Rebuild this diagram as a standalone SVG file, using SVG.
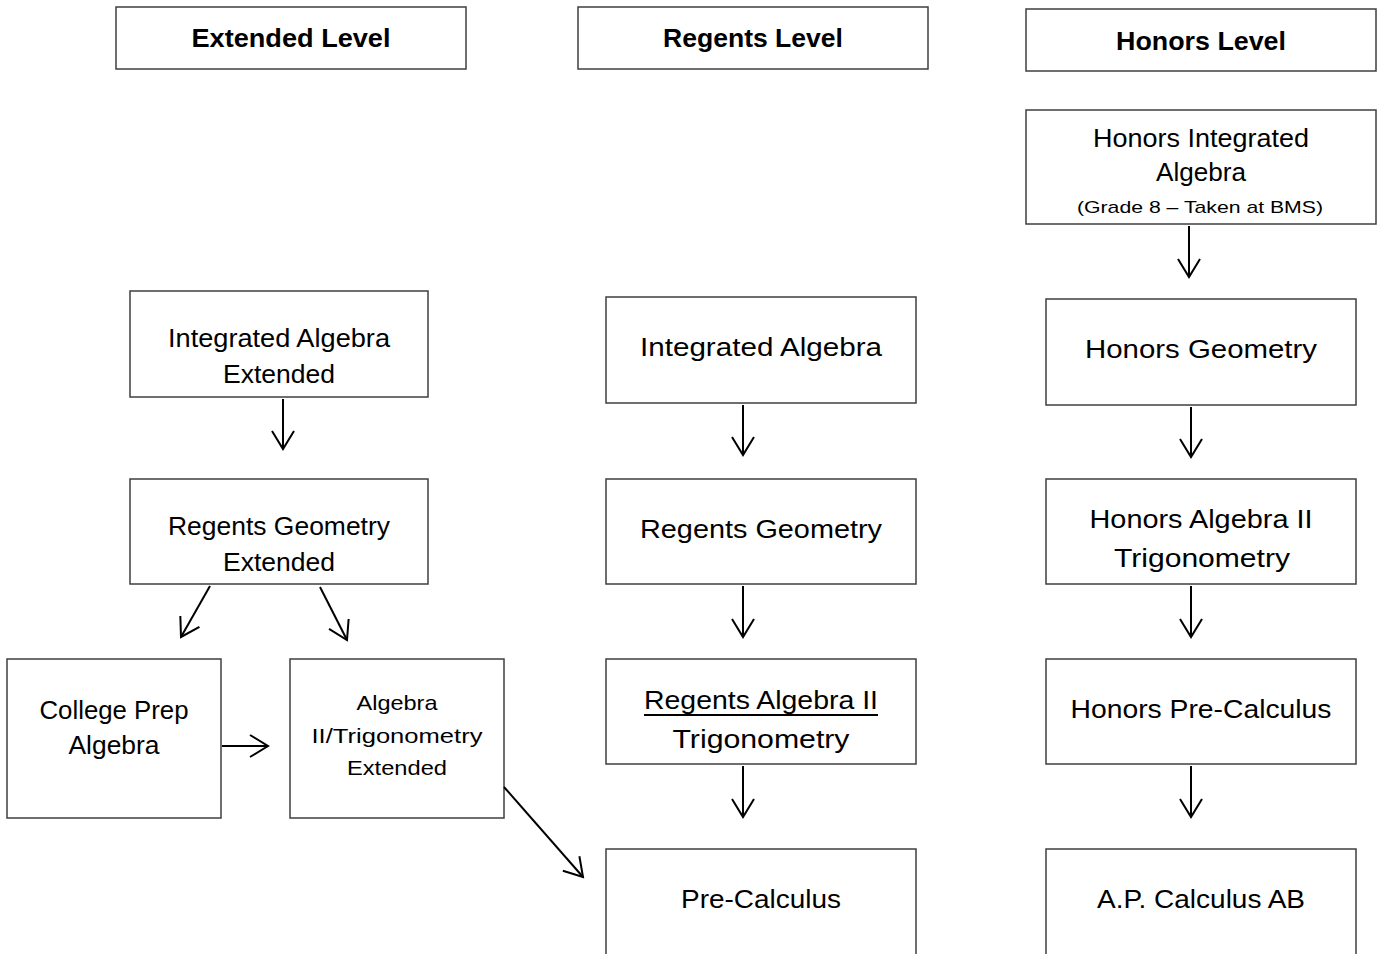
<svg xmlns="http://www.w3.org/2000/svg" width="1377" height="954" viewBox="0 0 1377 954">
<style>
.box{fill:#fff;stroke:#3f3f3f;stroke-width:1.5}
.t{font-family:"Liberation Sans",Arial,sans-serif;font-size:25px;fill:#000;text-anchor:middle}
.h{font-weight:bold;font-size:25px}
.s{font-size:21px}
.xs{font-size:17px}
.c{fill:none;stroke:#000;stroke-width:2}
</style>
<defs>
<marker id="ah" markerUnits="userSpaceOnUse" markerWidth="30" markerHeight="30" viewBox="-20 -15 22 30" refX="0" refY="0" orient="auto">
<path d="M-18,-11 L0,0 L-18,11" fill="none" stroke="#000" stroke-width="2"/>
</marker>
</defs>
<rect width="1377" height="954" fill="#fff"/>

<g id="hdr-extended"><rect class="box" x="116" y="7" width="350" height="62"/><text class="t h" x="291" y="47" textLength="199" lengthAdjust="spacingAndGlyphs">Extended Level</text></g>
<g id="hdr-regents"><rect class="box" x="578" y="7" width="350" height="62"/><text class="t h" x="753" y="47" textLength="180" lengthAdjust="spacingAndGlyphs">Regents Level</text></g>
<g id="hdr-honors"><rect class="box" x="1026" y="9" width="350" height="62"/><text class="t h" x="1201" y="50" textLength="170" lengthAdjust="spacingAndGlyphs">Honors Level</text></g>

<g id="honors-int-alg"><rect class="box" x="1026" y="110" width="350" height="114"/>
<text class="t" x="1201" y="147" textLength="216" lengthAdjust="spacingAndGlyphs">Honors Integrated</text>
<text class="t" x="1201" y="181" textLength="90" lengthAdjust="spacingAndGlyphs">Algebra</text>
<text class="t xs" x="1200" y="213" textLength="246" lengthAdjust="spacingAndGlyphs">(Grade 8 – Taken at BMS)</text></g>

<g id="ext-int-alg"><rect class="box" x="130" y="291" width="298" height="106"/>
<text class="t" x="279" y="347" textLength="222" lengthAdjust="spacingAndGlyphs">Integrated Algebra</text>
<text class="t" x="279" y="383" textLength="112" lengthAdjust="spacingAndGlyphs">Extended</text></g>

<g id="ext-geom"><rect class="box" x="130" y="479" width="298" height="105"/>
<text class="t" x="279" y="535" textLength="222" lengthAdjust="spacingAndGlyphs">Regents Geometry</text>
<text class="t" x="279" y="571" textLength="112" lengthAdjust="spacingAndGlyphs">Extended</text></g>

<g id="college-prep"><rect class="box" x="7" y="659" width="214" height="159"/>
<text class="t" x="114" y="719" textLength="149" lengthAdjust="spacingAndGlyphs">College Prep</text>
<text class="t" x="114" y="754" textLength="91" lengthAdjust="spacingAndGlyphs">Algebra</text></g>

<g id="ext-alg2"><rect class="box" x="290" y="659" width="214" height="159"/>
<text class="t s" x="397" y="710" textLength="81" lengthAdjust="spacingAndGlyphs">Algebra</text>
<text class="t s" x="397" y="743" textLength="171" lengthAdjust="spacingAndGlyphs">II/Trigonometry</text>
<text class="t s" x="397" y="775" textLength="100" lengthAdjust="spacingAndGlyphs">Extended</text></g>

<g id="reg-int-alg"><rect class="box" x="606" y="297" width="310" height="106"/>
<text class="t" x="761" y="356" font-size="27" textLength="242" lengthAdjust="spacingAndGlyphs">Integrated Algebra</text></g>

<g id="reg-geom"><rect class="box" x="606" y="479" width="310" height="105"/>
<text class="t" x="761" y="538" font-size="27" textLength="242" lengthAdjust="spacingAndGlyphs">Regents Geometry</text></g>

<g id="reg-alg2"><rect class="box" x="606" y="659" width="310" height="105"/>
<text class="t" x="761" y="709" font-size="27" textLength="234" lengthAdjust="spacingAndGlyphs">Regents Algebra II</text>
<line x1="644" y1="715" x2="878" y2="715" stroke="#000" stroke-width="2"/>
<text class="t" x="761" y="748" font-size="27" textLength="177" lengthAdjust="spacingAndGlyphs">Trigonometry</text></g>

<g id="reg-precalc"><path class="box" d="M606,955 V849 H916 V955"/>
<text class="t" x="761" y="908" font-size="27" textLength="160" lengthAdjust="spacingAndGlyphs">Pre-Calculus</text></g>

<g id="hon-geom"><rect class="box" x="1046" y="299" width="310" height="106"/>
<text class="t" x="1201" y="358" font-size="27" textLength="232" lengthAdjust="spacingAndGlyphs">Honors Geometry</text></g>

<g id="hon-alg2"><rect class="box" x="1046" y="479" width="310" height="105"/>
<text class="t" x="1201" y="528" font-size="27" textLength="223" lengthAdjust="spacingAndGlyphs">Honors Algebra II</text>
<text class="t" x="1202" y="567" font-size="27" textLength="176" lengthAdjust="spacingAndGlyphs">Trigonometry</text></g>

<g id="hon-precalc"><rect class="box" x="1046" y="659" width="310" height="105"/>
<text class="t" x="1201" y="718" font-size="27" textLength="261" lengthAdjust="spacingAndGlyphs">Honors Pre-Calculus</text></g>

<g id="hon-apcalc"><path class="box" d="M1046,955 V849 H1356 V955"/>
<text class="t" x="1201" y="908" font-size="27" textLength="208" lengthAdjust="spacingAndGlyphs">A.P. Calculus AB</text></g>

<g id="connectors">
<line class="c" x1="1189" y1="226" x2="1189" y2="277" marker-end="url(#ah)"/>
<line class="c" x1="283" y1="399" x2="283" y2="449" marker-end="url(#ah)"/>
<line class="c" x1="210" y1="586" x2="181" y2="637" marker-end="url(#ah)"/>
<line class="c" x1="320" y1="587" x2="347" y2="640" marker-end="url(#ah)"/>
<line class="c" x1="222" y1="746" x2="268" y2="746" marker-end="url(#ah)"/>
<line class="c" x1="504" y1="787" x2="583" y2="877" marker-end="url(#ah)"/>
<line class="c" x1="743" y1="405" x2="743" y2="455" marker-end="url(#ah)"/>
<line class="c" x1="743" y1="586" x2="743" y2="637" marker-end="url(#ah)"/>
<line class="c" x1="743" y1="766" x2="743" y2="817" marker-end="url(#ah)"/>
<line class="c" x1="1191" y1="407" x2="1191" y2="457" marker-end="url(#ah)"/>
<line class="c" x1="1191" y1="586" x2="1191" y2="637" marker-end="url(#ah)"/>
<line class="c" x1="1191" y1="766" x2="1191" y2="817" marker-end="url(#ah)"/>
</g>
</svg>
